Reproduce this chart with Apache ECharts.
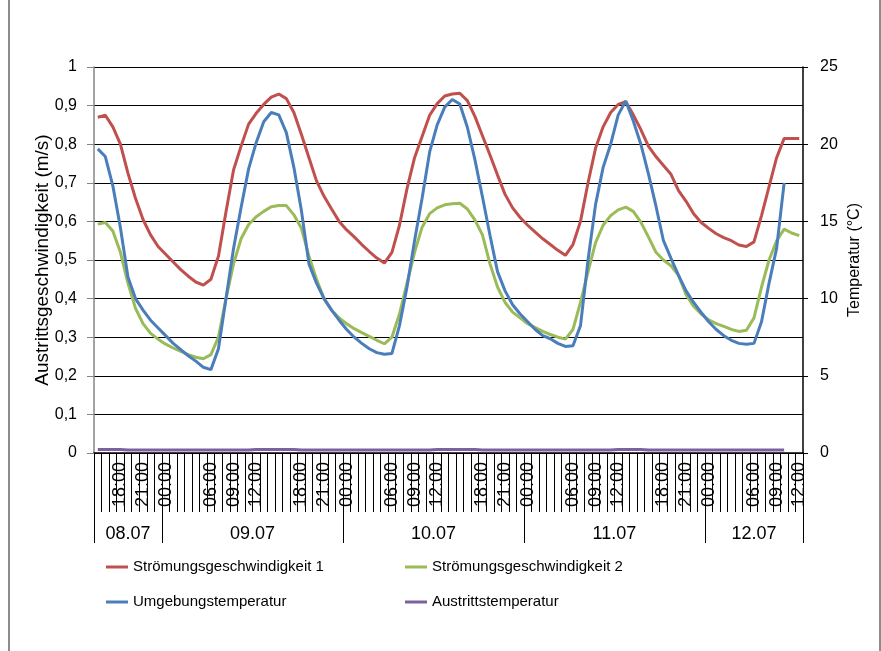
<!DOCTYPE html>
<html>
<head>
<meta charset="utf-8">
<script src="https://cdn.jsdelivr.net/npm/echarts@6/dist/echarts.min.js"></script>
<style>
  html, body { margin: 0; padding: 0; background: #fff; }
  #chart { position: absolute; left: 0; top: 0; width: 881px; height: 651px; }
  .edge { position: absolute; top: 0; width: 2px; height: 651px; background: #8c8c8c; }
</style>
</head>
<body>
<div id="chart"></div>
<div class="edge" style="left:8px"></div>
<div class="edge" style="left:879px"></div>
<script>
// hourly samples, 08.07 15:00 .. 12.07 12:00
const dayNames = ["08.07", "09.07", "10.07", "11.07", "12.07"];
const firstHour = 15;
const pointCount = 94;
const shownHours = ["00", "06", "09", "12", "18", "21"];

// Strömungsgeschwindigkeit 1 (m/s)
const speed1 = [
  0.870, 0.875, 0.845, 0.800, 0.725, 0.660, 0.605, 0.565, 0.535,
  0.515, 0.495, 0.475, 0.458, 0.443, 0.435, 0.450, 0.510, 0.625, 0.733, 0.795, 0.852,
  0.880, 0.903, 0.922, 0.930, 0.918, 0.882, 0.825, 0.765, 0.705, 0.665, 0.632, 0.600,
  0.578, 0.560, 0.540, 0.522, 0.505, 0.492, 0.520, 0.590, 0.685, 0.765, 0.820, 0.875,
  0.905, 0.925, 0.930, 0.932, 0.913, 0.872, 0.822, 0.772, 0.720, 0.670, 0.635, 0.610,
  0.590, 0.572, 0.555, 0.540, 0.525, 0.512, 0.540, 0.600, 0.700, 0.790, 0.845, 0.882,
  0.903, 0.910, 0.876, 0.838, 0.795, 0.768, 0.745, 0.722, 0.680, 0.652, 0.620, 0.597,
  0.582, 0.568, 0.558, 0.550, 0.539, 0.535, 0.547, 0.615, 0.690, 0.765, 0.815, 0.815, 0.815
];

// Strömungsgeschwindigkeit 2 (m/s)
const speed2 = [
  0.593, 0.597, 0.575, 0.520, 0.440, 0.375, 0.335, 0.310, 0.295,
  0.282, 0.272, 0.263, 0.255, 0.248, 0.244, 0.255, 0.300, 0.400, 0.490, 0.555, 0.592,
  0.612, 0.626, 0.638, 0.641, 0.641, 0.617, 0.582, 0.510, 0.450, 0.400, 0.370, 0.350,
  0.335, 0.322, 0.312, 0.302, 0.292, 0.283, 0.300, 0.360, 0.440, 0.520, 0.585, 0.620,
  0.635, 0.643, 0.646, 0.647, 0.632, 0.604, 0.565, 0.490, 0.430, 0.390, 0.365, 0.350,
  0.335, 0.325, 0.315, 0.307, 0.300, 0.295, 0.320, 0.390, 0.470, 0.545, 0.590, 0.615,
  0.630, 0.637, 0.626, 0.598, 0.560, 0.520, 0.500, 0.485, 0.460, 0.410, 0.380, 0.360,
  0.345, 0.335, 0.328, 0.320, 0.315, 0.318, 0.350, 0.430, 0.500, 0.550, 0.580, 0.570, 0.563
];

// Umgebungstemperatur (°C)
const ambientTemp = [
  19.7, 19.2, 17.3, 14.6, 11.4, 10.0, 9.25, 8.6, 8.1,
  7.6, 7.1, 6.7, 6.3, 5.95, 5.55, 5.4, 6.75, 10.0, 13.25, 15.9, 18.4,
  20.1, 21.45, 22.05, 21.9, 20.75, 18.5, 15.7, 12.25, 11.0, 10.0, 9.25, 8.6,
  8.0, 7.5, 7.1, 6.75, 6.5, 6.4, 6.45, 8.25, 10.75, 13.75, 16.5, 19.5,
  21.25, 22.4, 22.9, 22.6, 21.1, 19.0, 16.6, 14.1, 11.75, 10.5, 9.6, 9.0,
  8.5, 8.0, 7.6, 7.4, 7.1, 6.9, 6.95, 8.25, 12.5, 16.1, 18.5, 20.0,
  21.9, 22.8, 21.5, 20.0, 18.1, 16.0, 13.75, 12.6, 11.5, 10.5, 9.75, 9.1,
  8.5, 8.0, 7.6, 7.3, 7.1, 7.05, 7.1, 8.5, 11.0, 13.25, 17.5, null, null
];

// Austrittstemperatur
const outletTemp = [
  0.009, 0.009, 0.009, 0.009, 0.008, 0.008, 0.008, 0.008, 0.008,
  0.008, 0.008, 0.008, 0.008, 0.008, 0.008, 0.008, 0.008, 0.008, 0.008, 0.008, 0.008,
  0.009, 0.009, 0.009, 0.009, 0.009, 0.009, 0.008, 0.008, 0.008, 0.008, 0.008, 0.008,
  0.008, 0.008, 0.008, 0.008, 0.008, 0.008, 0.008, 0.008, 0.008, 0.008, 0.008, 0.008,
  0.009, 0.009, 0.009, 0.009, 0.009, 0.009, 0.008, 0.008, 0.008, 0.008, 0.008, 0.008,
  0.008, 0.008, 0.008, 0.008, 0.008, 0.008, 0.008, 0.008, 0.008, 0.008, 0.008, 0.008,
  0.009, 0.009, 0.009, 0.009, 0.008, 0.008, 0.008, 0.008, 0.008, 0.008, 0.008, 0.008,
  0.008, 0.008, 0.008, 0.008, 0.008, 0.008, 0.008, 0.008, 0.008, 0.008, 0.008, null, null
];

const timeLabels = [];
const dayIndex = [];
for (let i = 0; i < pointCount; i++) {
  const h = (firstHour + i) % 24;
  timeLabels.push((h < 10 ? "0" : "") + h + ":00");
  dayIndex.push(Math.floor((firstHour + i) / 24));
}

// where each date label sits (middle of its block of hours)
const dayLabelAt = {};
dayNames.forEach(function (name, d) {
  const first = dayIndex.indexOf(d);
  const last = dayIndex.lastIndexOf(d);
  const mid = (first + last) / 2;
  dayLabelAt[Math.ceil(mid)] = { text: name, half: mid !== Math.ceil(mid) };
});

const font = "'Liberation Sans', Arial, sans-serif";

function legendBlock(left, names) {
  return {
    orient: "vertical", left: left, top: 553,
    icon: "rect", itemWidth: 22, itemHeight: 3, itemGap: 17,
    textStyle: { fontFamily: font, fontSize: 15, lineHeight: 18, color: "#000" },
    data: names
  };
}

const chart = echarts.init(document.getElementById("chart"), null, { renderer: "canvas" });

chart.setOption({
  animation: false,
  backgroundColor: "#fff",
  grid: { left: 94, right: 78, top: 67, bottom: 198 },
  legend: [
    legendBlock(101, ["Strömungsgeschwindigkeit 1", "Umgebungstemperatur"]),
    legendBlock(400, ["Strömungsgeschwindigkeit 2", "Austrittstemperatur"])
  ],
  xAxis: [
    {
      type: "category",
      data: timeLabels,
      boundaryGap: true,
      position: "bottom",
      axisLine: { show: true, lineStyle: { color: "#000", width: 1.5 } },
      axisTick: { show: true, interval: 0, length: 59, lineStyle: { color: "#000", width: 1 } },
      axisLabel: {
        rotate: 90,
        margin: 9,
        fontFamily: font,
        fontSize: 18,
        color: "#000",
        interval: function (idx, val) { return shownHours.indexOf(val.slice(0, 2)) >= 0; }
      },
      splitLine: { show: false }
    },
    {
      type: "category",
      data: timeLabels,
      boundaryGap: true,
      position: "bottom",
      axisLine: { show: false },
      axisTick: {
        show: true, length: 90,
        lineStyle: { color: "#000", width: 1 },
        interval: function (idx, val) { return idx === 0 || val === "00:00"; }
      },
      axisLabel: {
        margin: 72,
        fontFamily: font,
        fontSize: 18,
        color: "#000",
        interval: function (idx) { return dayLabelAt[idx] !== undefined; },
        formatter: function (val, idx) {
          const d = dayLabelAt[idx];
          if (!d) return "";
          return d.half ? "{h|" + d.text + "}" : "{n|" + d.text + "}";
        },
        rich: {
          n: { fontFamily: font, fontSize: 18, color: "#000" },
          h: { fontFamily: font, fontSize: 18, color: "#000", padding: [0, 7.5, 0, 0] }
        }
      },
      splitLine: { show: false }
    }
  ],
  yAxis: [
    {
      type: "value",
      min: 0, max: 1, interval: 0.1,
      name: "Austrittsgeschwindigkeit (m/s)",
      nameLocation: "middle",
      nameGap: 42,
      nameRotate: 90,
      nameMoveOverlap: false,
      nameTextStyle: { fontFamily: font, fontSize: 19, color: "#000" },
      axisLine: { show: true, lineStyle: { color: "#868686", width: 1.5 } },
      axisTick: { show: true, length: 7, lineStyle: { color: "#868686" } },
      axisLabel: {
        margin: 17,
        fontFamily: font,
        fontSize: 16,
        color: "#000",
        formatter: function (v) {
          if (v === 0 || v === 1) return String(v);
          return v.toFixed(1).replace(".", ",");
        }
      },
      splitLine: { show: true, lineStyle: { color: "#000", width: 1.2 } }
    },
    {
      type: "value",
      min: 0, max: 25, interval: 5,
      position: "right",
      name: "Temperatur (°C)",
      nameLocation: "middle",
      nameGap: 44,
      nameRotate: 90,
      nameMoveOverlap: false,
      nameTextStyle: { fontFamily: font, fontSize: 16, color: "#000" },
      axisLine: { show: true, lineStyle: { color: "#000", width: 1.5 } },
      axisTick: { show: true, length: 5, lineStyle: { color: "#000" } },
      axisLabel: { margin: 17, fontFamily: font, fontSize: 16, color: "#000" },
      splitLine: { show: false }
    }
  ],
  series: [
    {
      name: "Strömungsgeschwindigkeit 1", type: "line", data: speed1,
      xAxisIndex: 0, yAxisIndex: 0, symbol: "none",
      itemStyle: { color: "#C0504D" }, lineStyle: { color: "#C0504D", width: 3 }
    },
    {
      name: "Strömungsgeschwindigkeit 2", type: "line", data: speed2,
      xAxisIndex: 0, yAxisIndex: 0, symbol: "none",
      itemStyle: { color: "#9BBB59" }, lineStyle: { color: "#9BBB59", width: 3 }
    },
    {
      name: "Umgebungstemperatur", type: "line", data: ambientTemp,
      xAxisIndex: 0, yAxisIndex: 1, symbol: "none",
      itemStyle: { color: "#4A7EBB" }, lineStyle: { color: "#4A7EBB", width: 3 }
    },
    {
      name: "Austrittstemperatur", type: "line", data: outletTemp,
      xAxisIndex: 0, yAxisIndex: 0, symbol: "none",
      itemStyle: { color: "#7D60A0" }, lineStyle: { color: "#7D60A0", width: 3 }
    }
  ]
});

window.addEventListener("resize", () => chart.resize());
</script>
</body>
</html>
